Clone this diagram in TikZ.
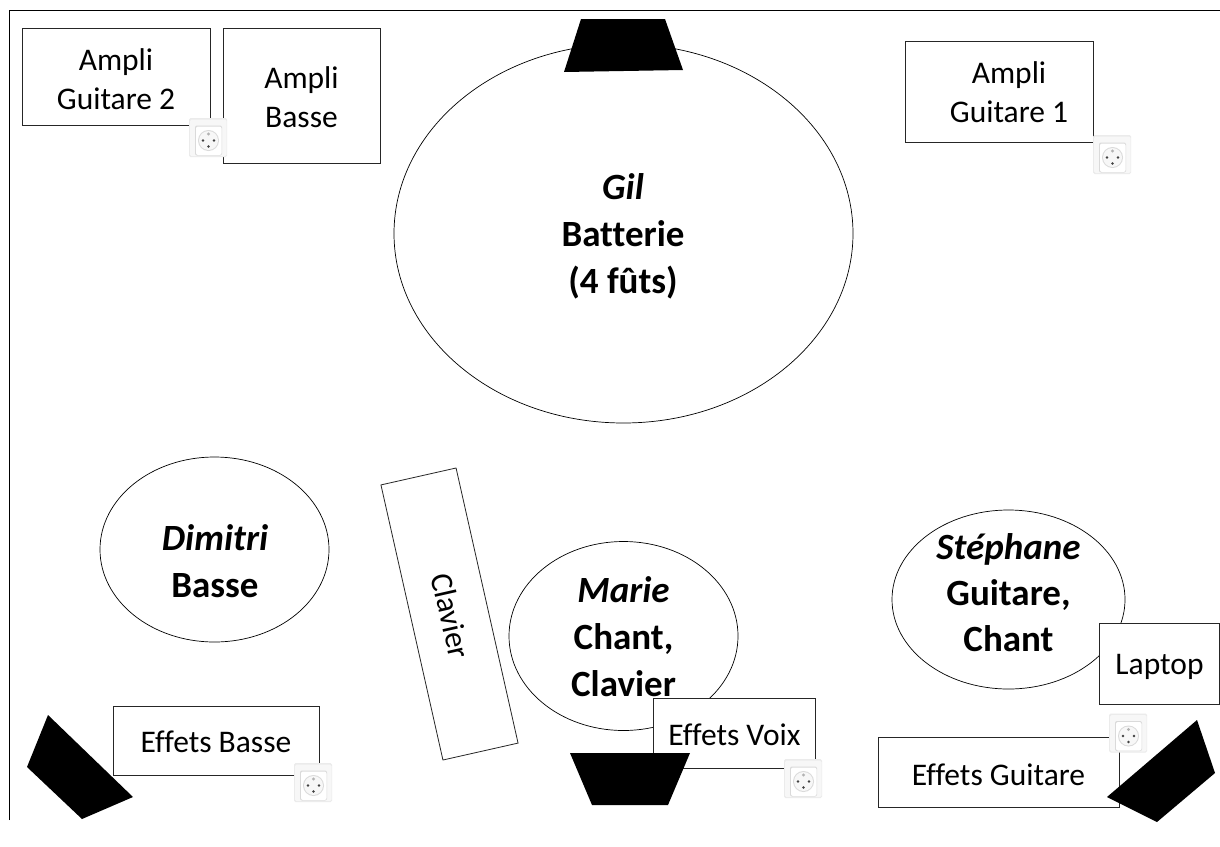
\documentclass[tikz,border=0pt]{standalone}
\usepackage{fontspec}
\setmainfont[Ligatures=NoCommon]{Carlito}
\usetikzlibrary{shapes.geometric}
\definecolor{sockA}{HTML}{EBEBEB}
\definecolor{sockB}{HTML}{F7F7F7}
\definecolor{sockC}{HTML}{DADADA}
\tikzset{
  box/.style={draw=black!85,fill=white,line width=0.8pt,inner sep=0pt,align=center},
  boxtext/.style={inner sep=0pt,align=center,font=\fontsize{31.5}{39}\selectfont},
  role/.style={ellipse,draw=black,fill=white,line width=0.7pt,inner sep=0pt},
  roletext/.style={inner sep=0pt,align=center,font=\fontsize{37}{47}\selectfont\bfseries},
  tightroletext/.style={inner sep=0pt,align=center,font=\fontsize{37}{46}\selectfont\bfseries},
  wedge/.style={fill=black,draw=none},
  frameline/.style={draw=black,line width=0.9pt},
  pics/socket/.style={code={
    \fill[sockA,rounded corners=1.5pt] (-19,-19.5) rectangle (19,19.5);
    \fill[sockB,rounded corners=1.5pt] (-18,-18) rectangle (18.5,18.5);
    \fill[sockC,rounded corners=2pt] (-13,-12) rectangle (14,18);
    \fill[white,rounded corners=2pt] (-12,-11) rectangle (13.5,17.5);
    \fill[sockC] (0.5,3) circle (10.5);
    \fill[sockB] (0.5,3) circle (9.5);
    \fill[black!75] (-5,3) circle (1.4) (6,3) circle (1.4) (0.5,9) circle (1.4);
    \fill[black!30] (0.5,-3.5) circle (1.6);
  }},
}
\begin{document}
\begin{tikzpicture}[x=1pt,y=-1pt]
\useasboundingbox (0,0) rectangle (1220,846);
\fill[white] (0,0) rectangle (1220,846);
\coordinate (ftl) at (9.5,10);
\coordinate (ftr) at (1220,10);
\coordinate (fbl) at (9.5,820);
\draw[frameline] (fbl) -- (ftl) -- (ftr);

\node[role,minimum width=459,minimum height=379] (gil) at (623.5,233.5) {};
\node[roletext] (giltext) at (623,236) {\textit{Gil}\\Batterie\\(4 fûts)};
\node[role,minimum width=229,minimum height=185] (dimitri) at (214.5,549.5) {};
\node[roletext] (dimitritext) at (215,561) {\textit{Dimitri}\\Basse};
\node[role,minimum width=229,minimum height=189] (marie) at (623.5,636) {};
\node[roletext] (marietext) at (623.5,637) {\textit{Marie}\\Chant,\\Clavier};
\node[role,minimum width=233,minimum height=179] (stephane) at (1008.5,599.5) {};
\node[tightroletext] (stephanetext) at (1008.5,593) {\textit{Stéphane}\\Guitare,\\Chant};

\node[box,minimum width=188,minimum height=97] (ag2) at (116,76.5) {};
\node[boxtext] (ag2text) at (116,79.5) {Ampli\\Guitare 2};
\node[box,minimum width=157,minimum height=135] (ab) at (301.5,95.5) {};
\node[boxtext] (abtext) at (301.5,97) {Ampli\\Basse};
\node[box,minimum width=188,minimum height=101] (ag1) at (999,91.5) {};
\node[boxtext] (ag1text) at (1009,92) {Ampli\\Guitare 1};
\node[box,minimum width=206,minimum height=69] (eb) at (216,740.5) {};
\node[boxtext] (ebtext) at (216,742) {Effets Basse};
\node[box,minimum width=162,minimum height=70] (ev) at (734,733) {};
\node[boxtext] (evtext) at (734.5,735) {Effets Voix};
\node[box,minimum width=241,minimum height=70] (eg) at (998.5,772) {};
\node[boxtext] (egtext) at (998.5,775) {Effets Guitare};
\node[box,minimum width=120,minimum height=81] (lap) at (1159,663.5) {};
\node[boxtext] (laptext) at (1159.5,667) {Laptop};
\node[box,rotate=-77.3,minimum width=282,minimum height=77] (clav) at (449.5,614) {};
\node[boxtext,rotate=-77.3] (clavtext) at (451,616) {Clavier};

\fill[wedge] (581,19) -- (665,19) -- (683,70) -- (564,72) -- cycle;
\fill[wedge] (570,753) -- (690,753) -- (668,805) -- (592,805) -- cycle;
\fill[wedge] (48,715) -- (133,797) -- (82,819) -- (27,767) -- cycle;
\fill[wedge] (1197,720) -- (1215,773) -- (1157,822) -- (1107,797) -- cycle;

\pic at (208,137.5) {socket};
\pic at (1112,154.5) {socket};
\pic at (313,782.5) {socket};
\pic at (803,778.5) {socket};
\pic at (1128,733) {socket};
\end{tikzpicture}
\end{document}
